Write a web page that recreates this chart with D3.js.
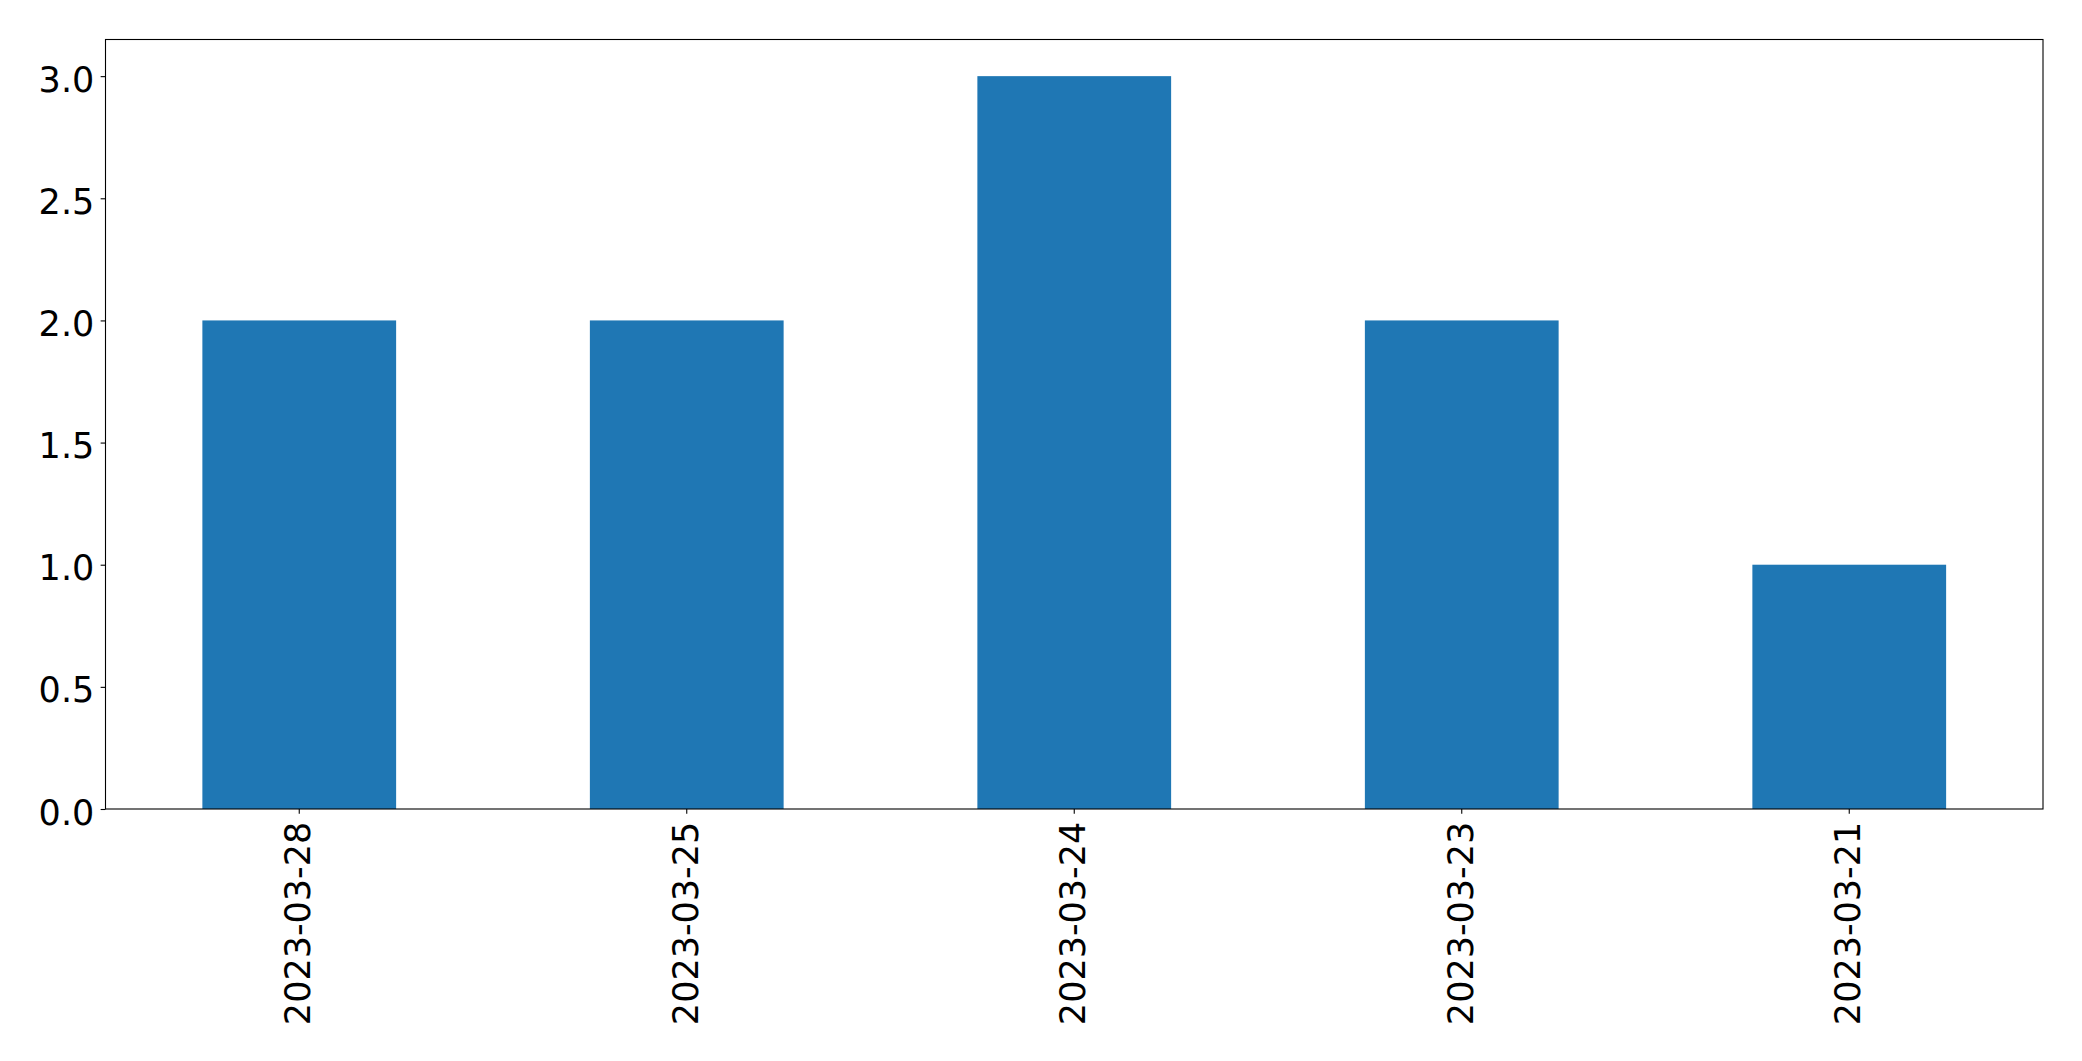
<!DOCTYPE html>
<html>
<head>
<meta charset="utf-8">
<script src="https://cdn.jsdelivr.net/npm/d3@7"></script>
<style>
  html, body { margin: 0; padding: 0; background: #fff; }
  svg { display: block; }
  text { font-family: "DejaVu Sans", sans-serif; fill: #000; }
</style>
</head>
<body>
<svg id="chart" width="2082" height="1061"></svg>
<script>
const categories = ["2023-03-28", "2023-03-25", "2023-03-24", "2023-03-23", "2023-03-21"];
const values = [2, 2, 3, 2, 1];
const yTicks = [0.0, 0.5, 1.0, 1.5, 2.0, 2.5, 3.0];

const W = 2082, H = 1061;
const m = { left: 105.5, right: 2043, top: 39.5, bottom: 809 };
const fontPx = 35;
const tickLen = 4.86, pad = 4.86;

const svg = d3.select("#chart");

const x = d3.scaleBand()
  .domain(categories)
  .range([m.left, m.right])
  .paddingInner(0.5)
  .paddingOuter(0.25);

const y = d3.scaleLinear()
  .domain([0, d3.max(values) * 1.05])
  .range([m.bottom, m.top]);

// bars
svg.append("g")
  .selectAll("rect")
  .data(values)
  .join("rect")
  .attr("x", (d, i) => x(categories[i]))
  .attr("width", x.bandwidth())
  .attr("y", d => y(d))
  .attr("height", d => y(0) - y(d))
  .attr("fill", "#1f77b4");

// y axis
const yAxis = d3.axisLeft(y)
  .tickValues(yTicks)
  .tickFormat(d3.format(".1f"))
  .tickSize(tickLen)
  .tickPadding(pad);
const gy = svg.append("g")
  .attr("transform", `translate(${m.left},0)`)
  .call(yAxis);
gy.select(".domain").remove();
gy.selectAll(".tick line").attr("stroke", "#000").attr("stroke-width", 1.1);
gy.selectAll(".tick text")
  .attr("font-size", fontPx)
  .attr("font-family", "DejaVu Sans")
  .attr("fill", "#000")
  .attr("x", -(tickLen + pad + 1.5))
  .attr("dy", 3)
  .attr("dominant-baseline", "central");

// x axis
const xAxis = d3.axisBottom(x)
  .tickSize(tickLen)
  .tickPadding(pad);
const gx = svg.append("g")
  .attr("transform", `translate(0,${m.bottom})`)
  .call(xAxis);
gx.select(".domain").remove();
gx.selectAll(".tick line").attr("stroke", "#000").attr("stroke-width", 1.1);
gx.selectAll(".tick text")
  .attr("font-size", fontPx)
  .attr("font-family", "DejaVu Sans")
  .attr("fill", "#000")
  .attr("y", 0)
  .attr("dy", null)
  .attr("text-anchor", "end")
  .attr("dominant-baseline", "central")
  .attr("transform", `translate(-1,${tickLen + pad + 3}) rotate(-90)`);

// frame
svg.append("rect")
  .attr("x", m.left)
  .attr("y", m.top)
  .attr("width", m.right - m.left)
  .attr("height", m.bottom - m.top)
  .attr("fill", "none")
  .attr("stroke", "#000")
  .attr("stroke-width", 1.1);
</script>
</body>
</html>
